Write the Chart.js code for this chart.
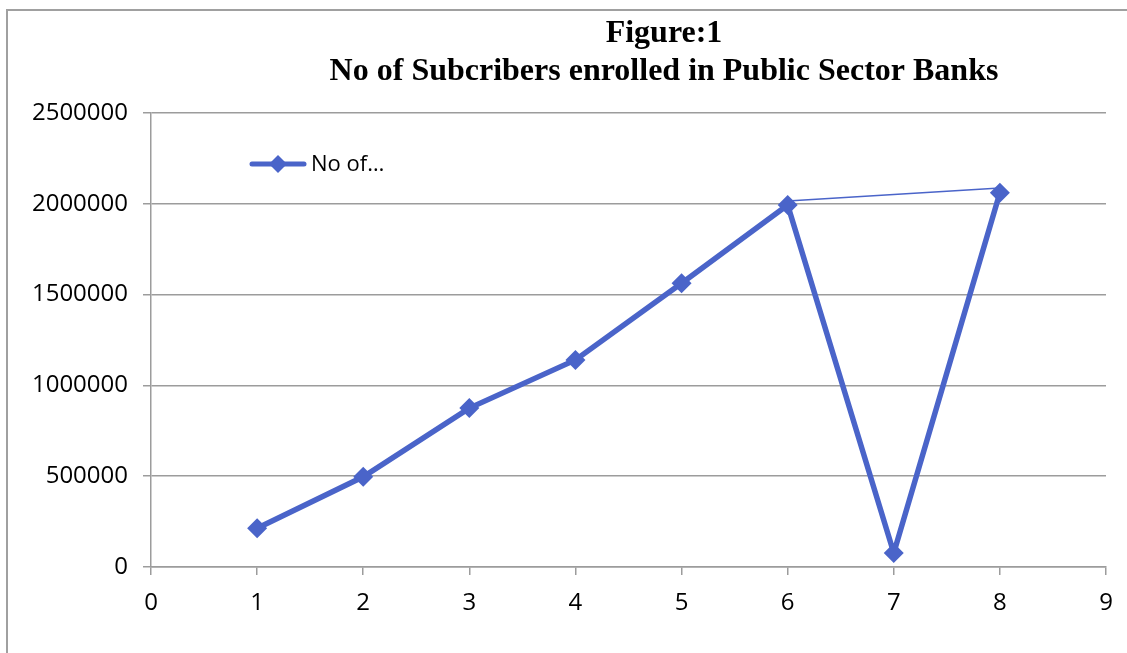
<!DOCTYPE html>
<html lang="en">
<head>
    <meta charset="UTF-8">
    <title>Subscribers - Public Sector Banks</title>
    <script src="https://cdn.jsdelivr.net/npm/chart.js@4.4.1/dist/chart.umd.min.js"></script>
    <style>
        html, body { margin: 0; padding: 0; background: #fff; overflow: hidden; }
    </style>
</head>
<body>
<canvas id="subs-chart" width="1127" height="653"></canvas>
<script>
    // year index and subscribers enrolled
    const years = [1, 2, 3, 4, 5, 6, 7, 8];
    const subscribers = [213000, 497000, 875000, 1140000, 1562000, 1993000, 77000, 2061000];
    // thin connector between 6 and 8
    const linkX = [6, 8];
    const linkY = [2015000, 2087000];
    const titleLines = ['Figure:1', 'No of Subcribers enrolled in Public Sector Banks'];
    const legendText = 'No of…';

    const blue = '#4a64c9';
    const gridGrey = '#9c9c9c';
    const tickFont = { family: "'Open Sans', sans-serif", size: 24 };

    // frame + title + legend drawn straight on the canvas
    const decor = {
        id: 'decor',
        beforeDraw(chart) {
            const ctx = chart.ctx;
            ctx.save();
            ctx.fillStyle = '#fff';
            ctx.fillRect(0, 0, chart.width, chart.height);
            ctx.strokeStyle = '#a0a0a0';
            ctx.lineWidth = 2;
            ctx.beginPath();
            ctx.moveTo(7, chart.height);
            ctx.lineTo(7, 10);
            ctx.lineTo(chart.width, 10);
            ctx.stroke();
            ctx.restore();
        },
        afterDraw(chart) {
            const ctx = chart.ctx;
            ctx.save();
            ctx.fillStyle = '#000';
            ctx.textAlign = 'center';
            ctx.textBaseline = 'middle';
            ctx.font = "bold 32px 'Liberation Serif', serif";
            ctx.fillText(titleLines[0], 664, 34);
            ctx.fillText(titleLines[1], 664, 72);

            // legend entry
            const ly = 164;
            ctx.strokeStyle = blue;
            ctx.lineWidth = 5;
            ctx.lineCap = 'round';
            ctx.beginPath();
            ctx.moveTo(252, ly);
            ctx.lineTo(304, ly);
            ctx.stroke();
            ctx.fillStyle = blue;
            ctx.beginPath();
            ctx.moveTo(278, ly - 9);
            ctx.lineTo(287, ly);
            ctx.lineTo(278, ly + 9);
            ctx.lineTo(269, ly);
            ctx.closePath();
            ctx.fill();
            ctx.fillStyle = '#000';
            ctx.textAlign = 'left';
            ctx.font = "22px 'Open Sans', sans-serif";
            ctx.fillText(legendText, 311, ly + 1);
            ctx.restore();
        }
    };

    const ctx = document.getElementById('subs-chart').getContext('2d');
    new Chart(ctx, {
        type: 'line',
        data: {
            datasets: [{
                label: legendText,
                data: years.map((x, i) => ({ x: x, y: subscribers[i] })),
                borderColor: blue,
                backgroundColor: blue,
                borderWidth: 5.5,
                pointStyle: 'rectRot',
                pointRadius: 10,
                pointHoverRadius: 10,
                pointBorderWidth: 0,
                tension: 0
            }, {
                label: 'link',
                data: linkX.map((x, i) => ({ x: x, y: linkY[i] })),
                borderColor: blue,
                borderWidth: 1.5,
                pointRadius: 0,
                tension: 0
            }]
        },
        options: {
            responsive: false,
            animation: false,
            devicePixelRatio: 1,
            layout: { padding: { top: 113, right: 21, bottom: 0, left: 0 } },
            plugins: {
                legend: { display: false },
                title: { display: false },
                tooltip: { enabled: false }
            },
            scales: {
                x: {
                    type: 'linear',
                    min: 0,
                    max: 9,
                    ticks: { stepSize: 1, autoSkip: false, color: '#000', font: tickFont, padding: 14, maxRotation: 0 },
                    grid: { drawOnChartArea: false, drawTicks: true, tickLength: 8, color: gridGrey, lineWidth: 1.5 },
                    border: { color: gridGrey, width: 1.5 },
                    afterFit(scale) { scale.height = 86; }
                },
                y: {
                    min: 0,
                    max: 2500000,
                    ticks: { stepSize: 500000, color: '#000', font: tickFont, padding: 15, callback: v => String(v) },
                    grid: { drawTicks: true, tickLength: 8, color: gridGrey, lineWidth: 1.5 },
                    border: { color: gridGrey, width: 1.5 },
                    afterFit(scale) { scale.width = 151; }
                }
            }
        },
        plugins: [decor]
    });
</script>
</body>
</html>
